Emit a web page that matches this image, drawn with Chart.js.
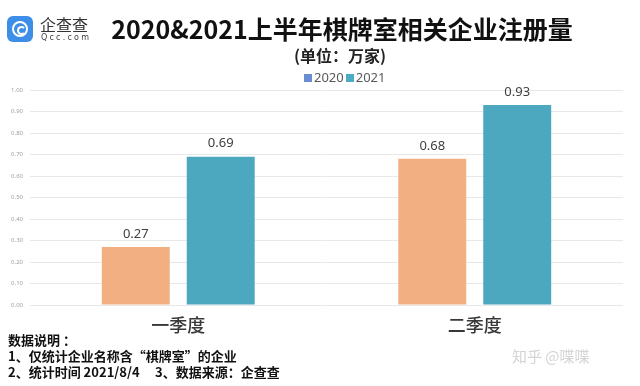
<!DOCTYPE html>
<html>
<head>
<meta charset="utf-8">
<script src="https://cdn.jsdelivr.net/npm/chart.js@4"></script>
<style>
  body { margin: 0; background: #fff; font-family: "Noto Sans CJK SC", "Noto Sans", sans-serif; }
  #wrap { position: relative; width: 640px; height: 386px; overflow: hidden; }
  #chart { position: absolute; left: 0; top: 0; }
  .abs { position: absolute; white-space: nowrap; }
  #logoBox { left: 7px; top: 16px; width: 26px; height: 26px; border-radius: 6px; background: #3d8ee8; }
  #logoBox .ring { position: absolute; left: 5px; top: 5px; width: 12px; height: 12px; border: 2.5px solid #fff; border-radius: 50%; }
  #logoBox .inner { position: absolute; left: 9.5px; top: 9.5px; width: 5px; height: 5px; border: 2px solid #fff; border-right-color: transparent; border-radius: 50%; }
  #logoName { left: 40px; top: 12px; font-size: 16px; color: #333; }
  #logoUrl { left: 41px; top: 33px; font-size: 8px; color: #444; letter-spacing: 2.2px; font-family: "DejaVu Sans", sans-serif; }
  #title { left: 0; width: 684px; top: 10px; text-align: center; font-size: 25px; font-weight: bold; color: #111; }
  #subtitle { left: 0; width: 680px; top: 43px; text-align: center; font-size: 16px; font-weight: bold; color: #222; }
  #legend { left: 304px; top: 68px; font-size: 13px; color: #595959; font-family: "Noto Sans", sans-serif; }
  #legend span.box { display: inline-block; width: 8px; height: 8px; margin-right: 2px; vertical-align: 0px; }
  #legend span.item { margin-right: 2px; }
  .note { left: 8px; font-size: 13px; font-weight: bold; color: #111; }
  #mark { left: 512px; top: 345px; font-size: 15px; color: #d4d4d4; }
</style>
</head>
<body>
<div id="wrap">
  <canvas id="chart" width="640" height="386"></canvas>
  <div class="abs" id="logoBox"><div class="ring"></div><div class="inner"></div></div>
  <div class="abs" id="logoName">企查查</div>
  <div class="abs" id="logoUrl">Qcc.com</div>
  <div class="abs" id="title">2020&amp;2021上半年棋牌室相关企业注册量</div>
  <div class="abs" id="subtitle">(单位：万家)</div>
  <div class="abs" id="legend"></div>
  <div class="abs note" style="top:330px">数据说明 ：</div>
  <div class="abs note" style="top:346px">1、仅统计企业名称含“棋牌室”的企业</div>
  <div class="abs note" style="top:362px">2、统计时间 2021/8/4</div>
  <div class="abs note" style="top:362px; left:155px">3、数据来源：企查查</div>
  <div class="abs" id="mark">知乎 @喋喋</div>
</div>
<script>
const categories = ["一季度", "二季度"];
const seriesNames = ["2020", "2021"];
const values2020 = [0.27, 0.68];
const values2021 = [0.69, 0.93];
const barColors = ["#F2AF82", "#4BA8BF"];
const legendColors = ["#6A8ECF", "#4BACC6"];
const yTicks = [0, 0.1, 0.2, 0.3, 0.4, 0.5, 0.6, 0.7, 0.8, 0.9, 1.0];

// legend (reference shows mismatched swatch colours, kept as is)
const legend = document.getElementById("legend");
seriesNames.forEach((name, i) => {
    legend.innerHTML += `<span class="box" style="background:${legendColors[i]}"></span><span class="item">${name}</span>`;
});

const valueLabels = {
    id: "valueLabels",
    afterDatasetsDraw(chart) {
        const ctx = chart.ctx;
        ctx.save();
        ctx.font = "13px 'Noto Sans', sans-serif";
        ctx.fillStyle = "#404040";
        ctx.textAlign = "center";
        ctx.textBaseline = "middle";
        chart.data.datasets.forEach((ds, i) => {
            chart.getDatasetMeta(i).data.forEach((bar, j) => {
                ctx.fillText(ds.data[j].toFixed(2), bar.x, bar.y - 13);
            });
        });
        ctx.restore();
    }
};

new Chart(document.getElementById("chart"), {
    type: "bar",
    data: {
        labels: categories,
        datasets: [
            {label: seriesNames[0], data: values2020, backgroundColor: barColors[0]},
            {label: seriesNames[1], data: values2021, backgroundColor: barColors[1]}
        ]
    },
    options: {
        responsive: false,
        animation: false,
        layout: {padding: {top: 90, right: 17, bottom: 0, left: 0}},
        plugins: {legend: {display: false}, tooltip: {enabled: false}},
        datasets: {bar: {categoryPercentage: 0.573, barPercentage: 0.8}},
        scales: {
            x: {
                afterFit(scale) { scale.height = 81; },
                grid: {display: false, drawTicks: false},
                border: {display: false},
                ticks: {
                    padding: 9,
                    color: "#383838",
                    font: {family: "'Noto Sans CJK SC', sans-serif", size: 18, weight: "500"}
                }
            },
            y: {
                min: 0,
                max: 1,
                afterBuildTicks(scale) { scale.ticks = yTicks.map(v => ({value: v})); },
                afterFit(scale) { scale.width = 30; },
                grid: {color: "#E8E8E8", drawTicks: false},
                border: {display: false},
                ticks: {
                    padding: 7,
                    color: "#A0A0A0",
                    font: {family: "'Noto Sans', sans-serif", size: 6},
                    callback: v => v.toFixed(2)
                }
            }
        }
    },
    plugins: [valueLabels]
});
</script>
</body>
</html>
